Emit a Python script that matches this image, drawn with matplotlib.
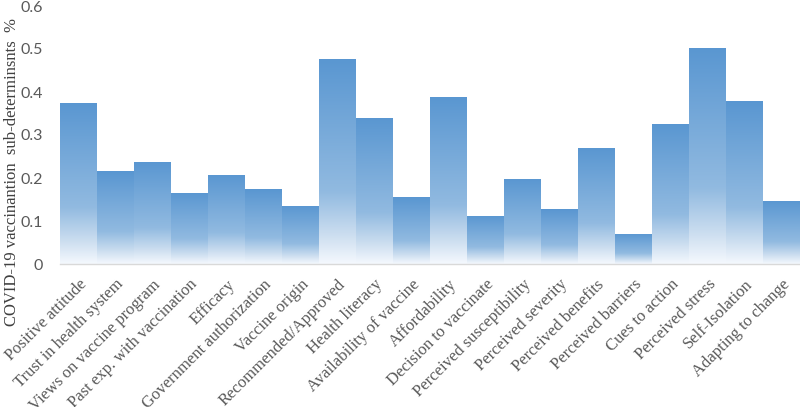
import numpy as np
import matplotlib
matplotlib.use("Agg")
import matplotlib.pyplot as plt
from matplotlib.colors import LinearSegmentedColormap

categories = [
    "Positive attitude", "Trust in health system", "Views on vaccine program",
    "Past exp. with vaccination", "Efficacy", "Government authorization",
    "Vaccine origin", "Recommended/Approved", "Health literacy",
    "Availability of vaccine", "Affordability", "Decision to vaccinate",
    "Perceived susceptibility", "Perceived severity", "Perceived benefits",
    "Perceived barriers", "Cues to action", "Perceived stress",
    "Self-Isolation", "Adapting to change",
]
values = [0.375, 0.216, 0.238, 0.166, 0.208, 0.174, 0.135, 0.477, 0.340,
          0.155, 0.389, 0.112, 0.198, 0.127, 0.270, 0.070, 0.326, 0.503,
          0.378, 0.147]
yticks = [0, 0.1, 0.2, 0.3, 0.4, 0.5, 0.6]
ytick_labels = ["0", "0.1", "0.2", "0.3", "0.4", "0.5", "0.6"]
ylabel = "COVID-19 vaccinantion  sub-determinsnts  %"

fig = plt.figure(figsize=(8, 4.07), dpi=100)
ax = fig.add_axes([60 / 800, 1 - 264 / 407, 740 / 800, 258 / 407])

cmap = LinearSegmentedColormap.from_list(
    "grad",
    [(0.0, (0.96, 0.975, 0.995)),
     (0.14, (0.80, 0.87, 0.94)),
     (0.35, (0.57, 0.73, 0.88)),
     (1.0, (0.35, 0.59, 0.82))],
)
grad = np.linspace(0, 1, 256).reshape(-1, 1)

x = np.arange(len(categories))
bars = ax.bar(x, values, width=1.0, color="none", edgecolor="none")
for b in bars:
    x0 = b.get_x()
    w = b.get_width()
    h = b.get_height()
    im = ax.imshow(grad, cmap=cmap, aspect="auto", origin="lower",
                   extent=(x0, x0 + w, 0, h), interpolation="bilinear", zorder=2)
    im.set_clip_path(b)

ax.set_xlim(-0.5, len(categories) - 0.5)
ax.set_ylim(0, 0.6)
ax.set_yticks(yticks)
ax.set_yticklabels(ytick_labels, fontfamily="Lato", fontsize=11.5, color="#595959")
ax.set_xticks(x)
ax.set_xticklabels(categories, rotation=45, ha="right", rotation_mode="anchor",
                   fontfamily="Liberation Serif", fontsize=12, color="#595959")
ax.tick_params(axis="both", length=0)
ax.tick_params(axis="y", pad=12)
ax.tick_params(axis="x", pad=9)
for s in ["top", "right", "left"]:
    ax.spines[s].set_visible(False)
ax.spines["bottom"].set_color("#d9d9d9")
ax.spines["bottom"].set_linewidth(1.0)
ax.spines["bottom"].set_zorder(3)

fig.text(12 / 800, 1 - 172 / 407, ylabel, rotation=90, ha="center", va="center",
         fontfamily="Liberation Serif", fontsize=12, color="#404040")

fig.savefig("out.png", dpi=100)
